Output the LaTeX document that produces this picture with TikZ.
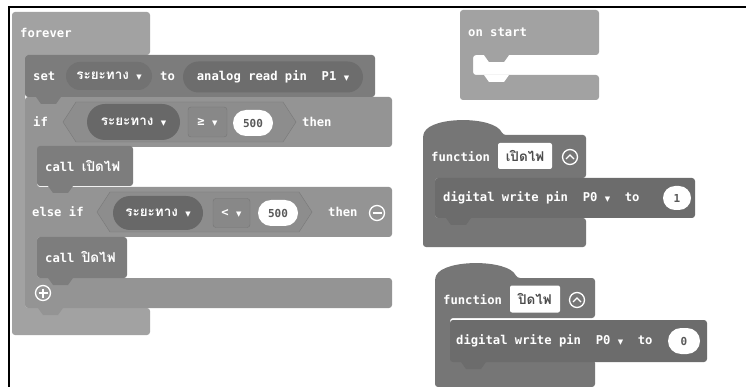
\documentclass[tikz,border=0pt]{standalone}
\usepackage{fontspec}
\usetikzlibrary{shapes.misc}
\newfontfamily\codefont{DejaVu Sans Mono}
\newfontfamily\thaifont[Script=Thai]{Loma}
\newfontfamily\symfont{DejaVu Sans}
\newcommand\dd{{\symfont\fontsize{7}{7}\selectfont▼}}
\newcommand\thaiword[1]{{\thaifont\bfseries\fontsize{13.5}{14}\selectfont #1}}
\definecolor{loopgray}{HTML}{A2A2A2}
\definecolor{setgray}{HTML}{7C7C7C}
\definecolor{ifgray}{HTML}{949494}
\definecolor{pillgray}{HTML}{686868}
\definecolor{callgray}{HTML}{7D7D7D}
\definecolor{fungray}{HTML}{767676}
\definecolor{pingray}{HTML}{6C6C6C}
\tikzset{
  loopblk/.style = {fill=loopgray, rounded corners=3pt},
  setblk/.style  = {fill=setgray, rounded corners=3pt},
  ifblk/.style   = {fill=ifgray, rounded corners=3pt},
  callblk/.style = {fill=callgray, rounded corners=3pt},
  funblk/.style  = {fill=fungray, rounded corners=3pt},
  pinblk/.style  = {fill=pingray, rounded corners=3pt},
  lbl/.style     = {anchor=west, inner sep=0pt, text=white,
                    font=\codefont\bfseries\fontsize{12.2}{14}\selectfont},
  varpill/.style = {rounded rectangle, fill=pillgray, inner sep=0pt,
                    text=white, font=\codefont\bfseries\fontsize{12.2}{14}\selectfont},
  numpill/.style = {rounded rectangle, fill=white, inner sep=0pt,
                    text=black!65, font=\codefont\bfseries\fontsize{11}{13}\selectfont},
  opbox/.style   = {rectangle, rounded corners=3pt, inner sep=0pt,
                    draw=ifgray!80!black, fill=ifgray!92!black, text=white,
                    font=\codefont\bfseries\fontsize{12.2}{14}\selectfont},
  namebox/.style = {rectangle, rounded corners=2pt, fill=white, inner sep=0pt,
                    text=black!70},
  roundbtn/.style = {circle, draw=white, line width=1.3pt, inner sep=0pt,
                     minimum size=15pt},
  blocktab/.pic = {\path[pic actions] (0,0) -- (5,7) -- (20,7) -- (25,0) -- cycle;}
}

\begin{document}
\begin{tikzpicture}[x=1pt, y=-1pt]
  \useasboundingbox (0,0) rectangle (746,387);
  \fill[white] (0,0) rectangle (746,387);

  % forever
  \fill[loopblk] (12,12) -- (150,12) -- (150,55) -- (25,55) -- (25,308)
    -- (150,308) -- (150,335) -- (12,335) -- cycle;
  \node[lbl] (forever) at (20,33) {forever};

  % if / else if
  \fill[ifblk] (25,97) -- (392,97) -- (392,147) -- (37,147) -- (37,187)
    -- (392,187) -- (392,237) -- (37,237) -- (37,278) -- (392,278)
    -- (392,308) -- (25,308) -- cycle;
  \pic[fill=ifgray] at (38,308) {blocktab};
  \node[lbl] (iflbl) at (33,122) {if};
  \fill[fill=ifgray!95!black, draw=ifgray!82!black, line join=round]
    (63,122) -- (76,102) -- (283,102) -- (296,122) -- (283,142) -- (76,142) -- cycle;
  \node[varpill, minimum width=93pt, minimum height=36pt] (varif) at (133.5,122)
    {\thaiword{ระยะทาง} \dd};
  \node[opbox, minimum width=39pt, minimum height=30pt] (opge) at (207.5,122) {≥ \dd};
  \node[numpill, minimum width=40pt, minimum height=26pt] (numif) at (253,123) {500};
  \node[lbl] (thenif) at (302,122) {then};

  \node[lbl] (eliflbl) at (32,212) {else if};
  \fill[fill=ifgray!95!black, draw=ifgray!82!black, line join=round]
    (97,212) -- (110,192) -- (299,192) -- (312,212) -- (299,232) -- (110,232) -- cycle;
  \node[varpill, minimum width=90pt, minimum height=34pt] (varelif) at (158,213)
    {\thaiword{ระยะทาง} \dd};
  \node[opbox, minimum width=37pt, minimum height=29pt] (oplt) at (231.5,213) {< \dd};
  \node[numpill, minimum width=40pt, minimum height=26pt] (numelif) at (278,213) {500};
  \node[lbl] (thenelif) at (328,212) {then};
  \node[roundbtn] (removebtn) at (377,213) {};
  \draw[white, line width=1.3pt] (removebtn.center) +(-4.5,0) -- +(4.5,0);

  \node[roundbtn] (addbtn) at (43,293) {};
  \draw[white, line width=1.3pt] (addbtn.center) +(-4.5,0) -- +(4.5,0)
    (addbtn.center) +(0,-4.5) -- +(0,4.5);

  % call blocks
  \fill[callblk] (37,146) rectangle (133,186);
  \pic[fill=callgray] at (48,186) {blocktab};
  \node[lbl] (callon) at (45,166) {call \thaiword{เปิดไฟ}};
  \fill[callblk] (37,237) rectangle (127,278);
  \pic[fill=callgray] at (48,278) {blocktab};
  \node[lbl] (calloff) at (45,257) {call \thaiword{ปิดไฟ}};

  % set
  \fill[setblk] (25,55) rectangle (375,97);
  \pic[fill=setgray] at (36,97) {blocktab};
  \node[lbl] (setlbl) at (33,76) {set};
  \node[varpill, fill=setgray!92!black, minimum width=86pt, minimum height=28pt]
    (varset) at (109,76) {\thaiword{ระยะทาง} \dd};
  \node[lbl] (tolbl) at (160,76) {to};
  \node[varpill, fill=setgray!88!black, minimum width=180pt, minimum height=31pt]
    (analog) at (273,77) {analog read pin\ \ P1 \dd};

  % on start
  \fill[loopblk] (460,10) -- (599,10) -- (599,55) -- (473,55) -- (473,75)
    -- (599,75) -- (599,100) -- (460,100) -- cycle;
  \pic[fill=loopgray] at (484,55) {blocktab};
  \pic[fill=white] at (484,75) {blocktab};
  \node[lbl] (onstart) at (468,32) {on start};

  % function on
  \fill[funblk] (423,247) -- (423,135) .. controls (432,116) and (494,116) .. (503,135)
    -- (586,135) -- (586,178) -- (435,178) -- (435,218) -- (586,218)
    -- (586,247) -- cycle;
  \node[lbl] (funon) at (431,157) {function};
  \node[namebox, minimum width=54pt, minimum height=26pt] (nameon) at (525,156) {\thaiword{เปิดไฟ}};
  \node[roundbtn] (foldon) at (570,157) {};
  \draw[white, line width=1.3pt] (foldon.center) +(-4,2) -- +(0,-2) -- +(4,2);
  \fill[pinblk] (435,178) rectangle (695,218);
  \pic[fill=pingray] at (446,218) {blocktab};
  \node[lbl] (pinon) at (443,198) {digital write pin\ \ P0 \dd\ \ to};
  \node[numpill, minimum width=28pt, minimum height=24pt] (valon) at (677,198) {1};

  % function off
  \fill[funblk] (435,387) -- (435,278) .. controls (444,259) and (508,259) .. (517,278)
    -- (595,278) -- (595,318) -- (450,318) -- (450,360) -- (595,360)
    -- (595,387) -- cycle;
  \node[lbl] (funoff) at (443,300) {function};
  \node[namebox, minimum width=50pt, minimum height=27pt] (nameoff) at (535,299) {\thaiword{ปิดไฟ}};
  \node[roundbtn] (foldoff) at (577,300) {};
  \draw[white, line width=1.3pt] (foldoff.center) +(-4,2) -- +(0,-2) -- +(4,2);
  \fill[pinblk] (450,320) rectangle (707,362);
  \pic[fill=pingray] at (461,362) {blocktab};
  \node[lbl] (pinoff) at (456,341) {digital write pin\ \ P0 \dd\ \ to};
  \node[numpill, minimum width=32pt, minimum height=26pt] (valoff) at (684,341) {0};

  % frame
  \draw[line width=1.6pt] (9,387) -- (9,7) -- (746,7);
\end{tikzpicture}
\end{document}
